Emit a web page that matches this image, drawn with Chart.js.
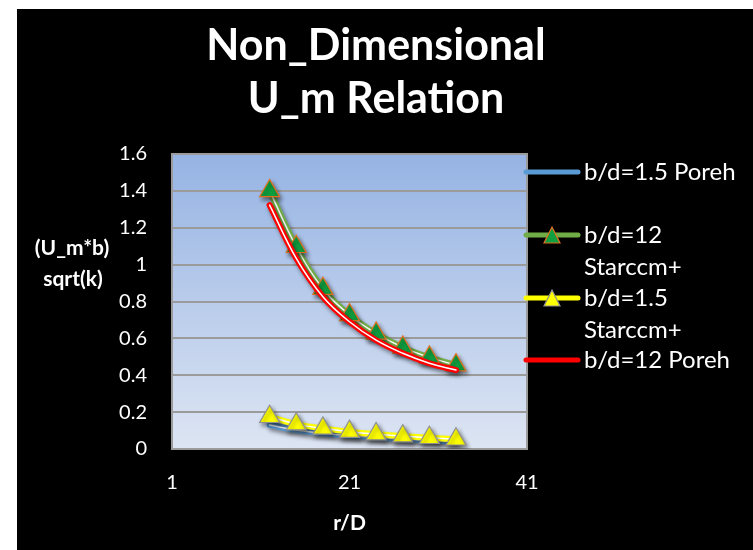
<!DOCTYPE html>
<html lang="en">
<head>
<meta charset="UTF-8">
<title>Non_Dimensional U_m Relation</title>
<script src="https://cdn.jsdelivr.net/npm/chart.js"></script>
<style>
  html, body { margin: 0; padding: 0; background: #fff; }
  #wrap { position: absolute; left: 17px; top: 9px; width: 736px; height: 541px; background: #000; }
</style>
</head>
<body>
<div id="wrap"><canvas id="umChart" width="736" height="541"></canvas></div>
<script>
// r/D positions of the samples
const xValues = [12, 15, 18, 21, 24, 27, 30, 33];
// (U_m*b)/sqrt(k) for each series
const poreh15 = [0.13, 0.103, 0.085, 0.072, 0.063, 0.054, 0.047, 0.04];
const starccm12 = [1.40, 1.097, 0.87, 0.727, 0.627, 0.551, 0.497, 0.455];
const starccm15 = [0.175, 0.135, 0.112, 0.094, 0.081, 0.07, 0.061, 0.053];
const poreh12 = [1.323, 1.034, 0.826, 0.69, 0.59, 0.519, 0.465, 0.428];
const seriesNames = [['b/d=1.5 Poreh'], ['b/d=12', 'Starccm+'], ['b/d=1.5', 'Starccm+'], ['b/d=12 Poreh']];
const titleLines = ['Non_Dimensional', 'U_m Relation'];
const xTicks = [1, 21, 41];
const yTicks = [0, 0.2, 0.4, 0.6, 0.8, 1, 1.2, 1.4, 1.6];

const FONT = 'Lato, "Open Sans", sans-serif';
const pts = arr => xValues.map((x, i) => ({ x: x, y: arr[i] }));

function lineSet(arr, color, order) {
    return { data: pts(arr), borderColor: color, borderWidth: 6, pointRadius: 0, tension: 0.4,
             borderCapStyle: 'round', fill: false, order: order, shadow: true };
}
function innerSet(arr, order) {
    return { data: pts(arr), borderColor: '#ffffff', borderWidth: 1.5, pointRadius: 0, tension: 0.4,
             borderCapStyle: 'round', fill: false, order: order };
}
function markerSet(arr, fill, edge, order) {
    return { data: pts(arr), showLine: false, pointStyle: 'triangle', pointRadius: 11.5, pointHoverRadius: 11.5,
             pointBackgroundColor: fill, pointBorderColor: edge, pointBorderWidth: 1.2, order: order, shadow: true };
}

const legendItems = [
    { color: '#5b9bd5' },
    { color: '#70ad47', marker: ['#10a040', '#e07020'] },
    { color: '#ffff00', marker: ['#ffff00', '#909090'] },
    { color: '#ff0000' }
];

const decor = {
    id: 'decor',
    beforeDraw(chart) {
        const { ctx, chartArea: a } = chart;
        const g = ctx.createLinearGradient(0, a.top, 0, a.bottom);
        g.addColorStop(0, '#95b3e3');
        g.addColorStop(1, '#dde5f3');
        ctx.save();
        ctx.fillStyle = g;
        ctx.fillRect(a.left, a.top, a.right - a.left, a.bottom - a.top);
        ctx.restore();
    },
    beforeDatasetsDraw(chart) {
        const { ctx, chartArea: a } = chart;
        ctx.save();
        ctx.strokeStyle = '#9b9b9b';
        ctx.lineWidth = 2;
        ctx.strokeRect(a.left, a.top, a.right - a.left, a.bottom - a.top);
        ctx.restore();
    },
    beforeDatasetDraw(chart, args) {
        const ctx = chart.ctx;
        ctx.save();
        if (chart.data.datasets[args.index].shadow) {
            ctx.shadowColor = 'rgba(0,0,0,0.45)';
            ctx.shadowBlur = 4;
            ctx.shadowOffsetX = 2;
            ctx.shadowOffsetY = 3;
        }
    },
    afterDatasetDraw(chart) {
        chart.ctx.restore();
    },
    afterDraw(chart) {
        const ctx = chart.ctx;
        ctx.save();
        ctx.fillStyle = '#fff';
        ctx.textAlign = 'center';
        ctx.textBaseline = 'alphabetic';
        ctx.font = 'bold 43px ' + FONT;
        ctx.fillText(titleLines[0], 359, 51);
        ctx.fillText(titleLines[1], 359, 104);

        ctx.textBaseline = 'middle';
        ctx.font = 'bold 21px ' + FONT;
        ctx.fillText('(U_m*b)', 55, 239);
        ctx.fillText('sqrt(k)', 56, 270);

        // legend
        const rows = [163, 226, 289, 351];
        ctx.textAlign = 'left';
        ctx.font = '24px ' + FONT;
        legendItems.forEach((it, i) => {
            const y = rows[i];
            ctx.strokeStyle = it.color;
            ctx.lineWidth = 5;
            ctx.lineCap = 'round';
            ctx.beginPath();
            ctx.moveTo(509, y);
            ctx.lineTo(561, y);
            ctx.stroke();
            if (it.marker) {
                ctx.beginPath();
                ctx.moveTo(535, y - 8);
                ctx.lineTo(543, y + 8);
                ctx.lineTo(527, y + 8);
                ctx.closePath();
                ctx.fillStyle = it.marker[0];
                ctx.fill();
                ctx.strokeStyle = it.marker[1];
                ctx.lineWidth = 1.2;
                ctx.stroke();
            }
            ctx.fillStyle = '#fff';
            seriesNames[i].forEach((t, k) => ctx.fillText(t, 567, y + k * 32));
        });
        ctx.restore();
    }
};

new Chart(document.getElementById('umChart'), {
    type: 'line',
    data: {
        datasets: [
            lineSet(poreh15, '#5b9bd5', 10),
            innerSet(poreh15, 9),
            lineSet(starccm12, '#70ad47', 8),
            innerSet(starccm12, 7),
            markerSet(starccm12, '#10a040', '#e07020', 6),
            lineSet(starccm15, '#ffff00', 5),
            innerSet(starccm15, 4),
            markerSet(starccm15, '#ffff00', '#909090', 3),
            lineSet(poreh12, '#ff0000', 2),
            innerSet(poreh12, 1)
        ]
    },
    options: {
        responsive: false,
        animation: false,
        events: [],
        layout: { padding: { left: 0, right: 226, top: 145, bottom: 0 } },
        plugins: {
            legend: { display: false },
            tooltip: { enabled: false },
            title: { display: false }
        },
        scales: {
            x: {
                type: 'linear',
                min: 1,
                max: 41,
                afterBuildTicks: s => { s.ticks = xTicks.map(v => ({ value: v })); },
                afterFit: s => { s.height = 101; },
                grid: { display: false, drawTicks: false },
                border: { display: true, color: '#9b9b9b', width: 2 },
                ticks: { color: '#fff', font: { family: FONT, size: 20 }, padding: 22 },
                title: { display: true, text: 'r/D', color: '#fff',
                         font: { family: FONT, size: 21, weight: 'bold' }, padding: { top: 0, bottom: 14 } }
            },
            y: {
                min: 0,
                max: 1.6,
                afterBuildTicks: s => { s.ticks = yTicks.map(v => ({ value: v })); },
                afterFit: s => { s.width = 155; },
                grid: { color: '#9b9b9b', lineWidth: 2, drawTicks: false },
                border: { display: true, color: '#9b9b9b', width: 2 },
                ticks: { color: '#fff', font: { family: FONT, size: 20 }, padding: 25,
                         callback: v => String(+v.toFixed(1)) }
            }
        }
    },
    plugins: [decor]
});
</script>
</body>
</html>
